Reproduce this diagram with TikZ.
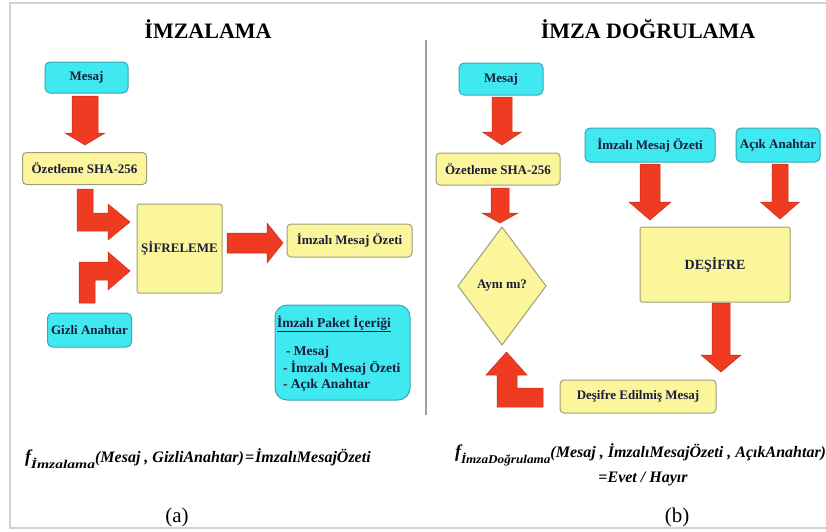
\documentclass[tikz,border=0pt]{standalone}
\usepackage{fontspec}
\setmainfont{Liberation Serif}
\usepackage{graphicx}
\usetikzlibrary{shapes.geometric}
\definecolor{cyanfill}{HTML}{40E8F0}
\definecolor{cyanedge}{HTML}{3AA5B5}
\definecolor{yelfill}{HTML}{FBF69C}
\definecolor{yeledge}{HTML}{9E9E78}
\definecolor{arrowred}{HTML}{EE3B22}
\definecolor{arrowedge}{HTML}{C42E1C}
\definecolor{txt}{HTML}{1C1C3C}
\definecolor{framegray}{HTML}{D2D2D2}
\newcommand\fsz[1]{\fontsize{#1}{#1}\selectfont}
\newcommand\darrow[6]{\filldraw[blockarrow] ({#1-#4/2},#2) -- ({#1+#4/2},#2) -- ({#1+#4/2},{#3-#6}) -- ({#1+#5/2},{#3-#6}) -- (#1,#3) -- ({#1-#5/2},{#3-#6}) -- ({#1-#4/2},{#3-#6}) -- cycle;}
\begin{document}
\begin{tikzpicture}[x=1pt,y=-1pt,
  every node/.style={inner sep=0pt,outer sep=0pt},
  cyanbox/.style={draw=cyanedge,fill=cyanfill,rounded corners=5pt,line width=1pt,font=\fsz{13}\bfseries,text=txt},
  yelbox/.style={draw=yeledge,fill=yelfill,rounded corners=4pt,line width=1pt,font=\fsz{13}\bfseries,text=txt},
  blockarrow/.style={fill=arrowred,draw=arrowedge,line width=0.5pt,line join=miter},
  ptext/.style={font=\fsz{13.5}\bfseries,text=txt},
  title/.style={font=\fsz{22}\bfseries,text=black},
  formula/.style={font=\fsz{16}\bfseries\itshape,text=black}]
\useasboundingbox (0,0) rectangle (826,531);
\fill[white] (0,0) rectangle (826,531);
% frame
\draw[framegray,line width=2pt] (830,3) -- (10,3) -- (10,528) -- (830,528);
% divider
\draw[gray!75,line width=1.2pt] (426,40) -- (426,415);

% titles
\node[title,anchor=base] (tA) at (208,38) {İMZALAMA};
\node[title,anchor=base] (tB) at (648,38) {İMZA DOĞRULAMA};

% ---------- left panel ----------
\node[cyanbox,minimum width=83pt,minimum height=31pt] (mesajA) at (86.5,77.5) {Mesaj};
\node[yelbox,minimum width=124pt,minimum height=32pt] (ozetA) at (84.5,168.5) {Özetleme SHA-256};
\node[yelbox,rounded corners=1.5pt,minimum width=85pt,minimum height=89pt] (sifre) at (179.5,248.5) {ŞİFRELEME};
\node[yelbox,minimum width=125pt,minimum height=33pt] (imzaliA) at (349.5,240.5) {İmzalı Mesaj Özeti};
\node[cyanbox,minimum width=84pt,minimum height=34pt] (gizli) at (89.5,330) {Gizli Anahtar};
\node[cyanbox,rounded corners=12pt,minimum width=135pt,minimum height=95pt] (paket) at (342.5,352.5) {};
\node[ptext,anchor=base west] (pt0) at (277,327) {\underline{İmzalı Paket İçeriği}};
\node[ptext,anchor=base west] (pt1) at (286,355) {- Mesaj};
\node[ptext,anchor=base west] (pt2) at (283,372) {- İmzalı Mesaj Özeti};
\node[ptext,anchor=base west] (pt3) at (283,388) {- Açık Anahtar};

\darrow{85}{96}{145}{26}{40}{12}
\filldraw[blockarrow] (77,189) -- (93,189) -- (93,213) -- (108,213) -- (108,204) -- (130,222) -- (108,240) -- (108,231) -- (77,231) -- cycle;
\filldraw[blockarrow] (79,303) -- (79,262) -- (108,262) -- (108,252) -- (130,271) -- (108,290) -- (108,280) -- (95,280) -- (95,303) -- cycle;
\filldraw[blockarrow] (227,233) -- (267,233) -- (267,223) -- (283,243) -- (267,263) -- (267,253) -- (227,253) -- cycle;

\node[formula,anchor=base west] (fA) at (25,462) {{\fsz{18}f}\raisebox{-6pt}{\scalebox{1.3}[1]{\fsz{12}İmzalama}}(Mesaj , GizliAnahtar)\kern1pt=\kern1ptİmzalıMesajÖzeti};
\node[anchor=center,font=\fsz{21}] (la) at (177,517) {(a)};

% ---------- right panel ----------
\node[cyanbox,minimum width=84pt,minimum height=32pt] (mesajB) at (501,79) {Mesaj};
\node[yelbox,minimum width=124pt,minimum height=32pt] (ozetB) at (498,169) {Özetleme SHA-256};
\node[diamond,draw=yeledge,fill=yelfill,line width=1pt,minimum width=88pt,minimum height=118pt,font=\fsz{13}\bfseries,text=txt] (ayni) at (502,286) {Aynı mı?};
\node[cyanbox,minimum width=130pt,minimum height=34pt] (imzaliB) at (650,145) {İmzalı Mesaj Özeti};
\node[cyanbox,minimum width=84pt,minimum height=34pt] (acik) at (778,145) {Açık Anahtar};
\node[yelbox,rounded corners=1.5pt,minimum width=150pt,minimum height=75pt,font=\fsz{14}\bfseries] (desifre) at (715,264.5) {DEŞİFRE};
\node[yelbox,minimum width=156pt,minimum height=33pt] (edilmis) at (638,396.5) {Deşifre Edilmiş Mesaj};

\darrow{502}{97}{145}{20}{39}{13}
\darrow{500}{188}{223}{18}{36}{10}
\darrow{650}{164}{220}{20}{42}{18}
\darrow{780}{164}{219}{16}{39}{17}
\darrow{721}{303}{372}{18}{40}{17}
\filldraw[blockarrow] (543,388) -- (543,407) -- (497,407) -- (497,375) -- (486,375) -- (506.5,352) -- (527,375) -- (517,375) -- (517,388) -- cycle;

\node[formula,anchor=base west] (fB) at (455,457) {{\fsz{18}f}\raisebox{-6pt}{\scalebox{1.1}[1]{\fsz{12}İmzaDoğrulama}}(Mesaj , İmzalıMesajÖzeti , AçıkAnahtar)};
\node[formula,anchor=base] (fB2) at (643,482) {=Evet / Hayır};
\node[anchor=center,font=\fsz{21}] (lb) at (677,517) {(b)};
\end{tikzpicture}
\end{document}
